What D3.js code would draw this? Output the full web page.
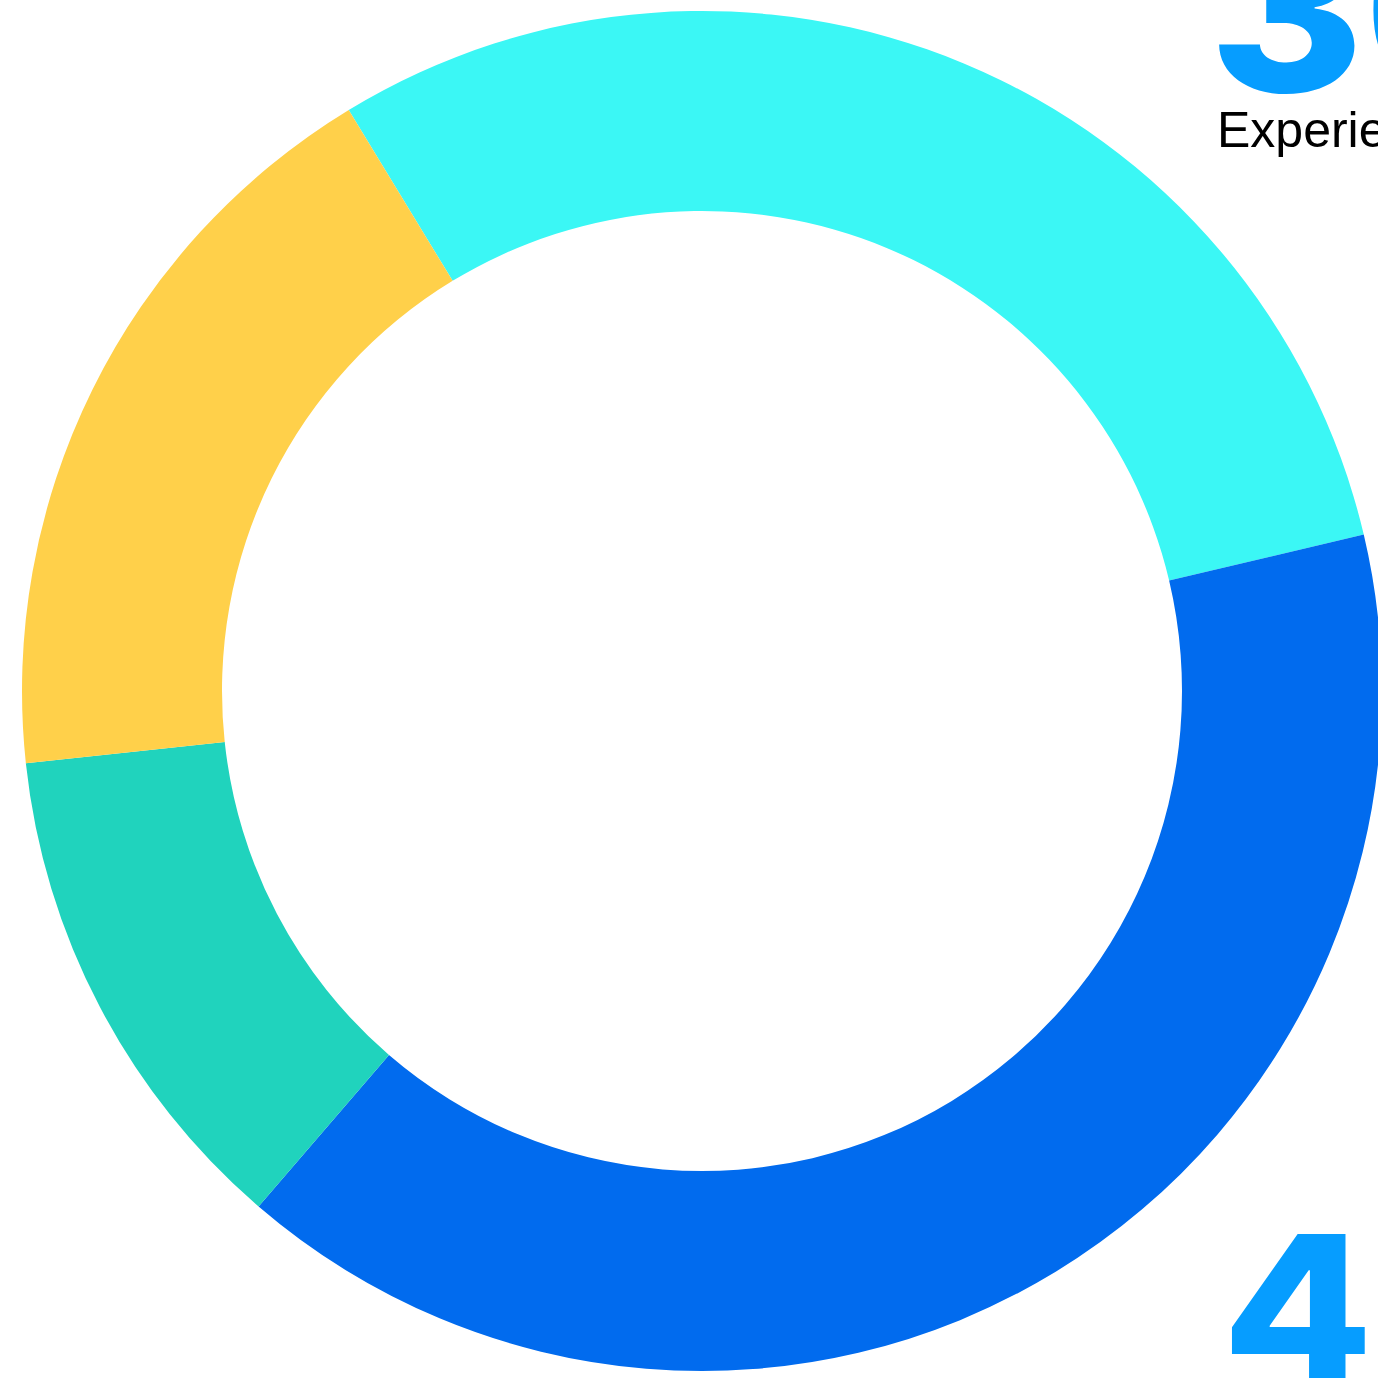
<!DOCTYPE html>
<html>
<head>
<meta charset="utf-8">
<title>Donut</title>
<script src="https://d3js.org/d3.v7.min.js"></script>
<style>
body {
	margin: 0;
	background-color: white;
	overflow: hidden;
}
.big {
	font-family: Inter, "Liberation Sans", Arial, sans-serif;
	font-weight: 800;
	fill: #069dff;
}
.caption {
	font-family: "Liberation Sans", Arial, sans-serif;
	fill: black;
}
</style>
</head>
<body>
<div id="chart"></div>
<script>
const categories = ["Experienced", "Senior", "Junior", "Intermediate"];
const values = [30, 40, 12, 18];
const colors = ["#3bf7f5", "#016bee", "#20d3bd", "#ffd04a"];
const bigLabels = ["30%", "40%"];
const captions = ["Experienced"];

(function() {
"use strict";
const width = 1378, height = 1378;
const cx = 702, cy = 691;
const outerR = 680, innerR = 480;
const start = -31.3 * Math.PI / 180;

const svg = d3.select("#chart")
	.append("svg")
		.attr("width", width)
		.attr("height", height);

const pie = d3.pie()
	.sort(null)
	.startAngle(start)
	.endAngle(start + 2 * Math.PI);
const arc = d3.arc().innerRadius(innerR).outerRadius(outerR);

svg.append("g")
	.attr("transform", "translate(" + cx + "," + cy + ")")
	.selectAll("path")
	.data(pie(values))
	.join("path")
		.attr("fill", (d, i) => colors[i])
		.attr("d", arc);

// big figures: the reference face is wider than any installed one,
// so squash a little vertically
svg.append("text")
	.attr("class", "big")
	.attr("transform", "translate(1209,92) scale(1,0.95)")
	.attr("font-size", 236)
	.text(bigLabels[0]);
svg.append("text")
	.attr("class", "caption")
	.attr("x", 1217)
	.attr("y", 147)
	.attr("font-size", 50)
	.text(captions[0]);
svg.append("text")
	.attr("class", "big")
	.attr("transform", "translate(1222,1378) scale(1,0.9)")
	.attr("font-size", 220)
	.text(bigLabels[1]);
})();
</script>
</body>
</html>
